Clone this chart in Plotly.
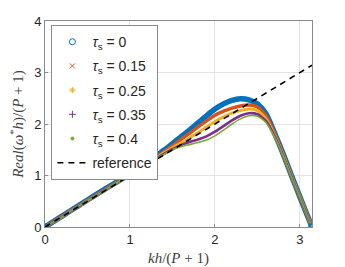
import math
import plotly.graph_objects as go

# ---- data ----
kh = [0, 0.2, 0.4, 0.6, 0.8, 1.0, 1.1, 1.2, 1.3, 1.4, 1.5, 1.6, 1.7, 1.8, 1.9, 2.0,
      2.1, 2.2, 2.3, 2.4, 2.5, 2.6, 2.7, 2.8, 2.9, 3.0, 3.1, math.pi]
tau_0 = [0, 0.21, 0.42, 0.63, 0.83, 1.03, 1.14, 1.25, 1.37, 1.49, 1.62, 1.75, 1.88, 2.02, 2.16, 2.29,
         2.39, 2.46, 2.49, 2.47, 2.39, 2.20, 1.83, 1.43, 1.00, 0.58, 0.17, 0]
tau_015 = [0, 0.21, 0.41, 0.62, 0.82, 1.02, 1.13, 1.24, 1.35, 1.46, 1.58, 1.70, 1.82, 1.94, 2.06, 2.17,
           2.25, 2.31, 2.35, 2.37, 2.33, 2.16, 1.82, 1.42, 0.99, 0.58, 0.17, 0]
tau_025 = [0, 0.20, 0.41, 0.61, 0.82, 1.02, 1.12, 1.23, 1.33, 1.44, 1.54, 1.63, 1.73, 1.83, 1.94, 2.05,
           2.14, 2.21, 2.26, 2.29, 2.26, 2.10, 1.79, 1.41, 0.99, 0.58, 0.17, 0]
tau_035 = [0, 0.20, 0.41, 0.61, 0.82, 1.02, 1.12, 1.22, 1.32, 1.42, 1.51, 1.59, 1.65, 1.70, 1.76, 1.85,
           1.96, 2.07, 2.16, 2.21, 2.19, 2.06, 1.77, 1.40, 0.98, 0.57, 0.17, 0]
tau_04 = [0, 0.20, 0.41, 0.61, 0.82, 1.02, 1.12, 1.22, 1.32, 1.41, 1.50, 1.56, 1.60, 1.64, 1.69, 1.77,
          1.88, 2.00, 2.10, 2.16, 2.15, 2.03, 1.75, 1.39, 0.97, 0.57, 0.17, 0]
ref_x = [0, math.pi]
ref_y = [0, math.pi]

labels = ["0", "0.15", "0.25", "0.35", "0.4"]
series = [tau_0, tau_015, tau_025, tau_035, tau_04]
colors = ["#0072BD", "#D95319", "#EDB120", "#7E2F8E", "#77AC30"]
widths = [5.5, 3.4, 3.0, 2.6, 1.6]
symbols = ["circle-open", "x-thin-open", "asterisk-open", "cross-thin-open", "circle"]
msizes = [6, 5, 5, 5, 3]

fig = go.Figure()
for lab, ys, c, w in zip(labels, series, colors, widths):
    fig.add_trace(go.Scatter(x=kh, y=ys, mode="lines", line=dict(color=c, width=w, shape="spline", smoothing=0.6),
                             showlegend=False, hoverinfo="skip"))
# endpoint circles of the tau=0 series
fig.add_trace(go.Scatter(x=[kh[0], kh[-1]], y=[tau_0[0], tau_0[-1]], mode="markers",
                         marker=dict(symbol="circle-open", color=colors[0], size=6, line=dict(width=1.5)),
                         showlegend=False))
fig.add_trace(go.Scatter(x=ref_x, y=ref_y, mode="lines", line=dict(color="black", width=1.6, dash="6px,5px"),
                         showlegend=False))
# legend entries
for i, (lab, c, s, ms) in enumerate(zip(labels, colors, symbols, msizes)):
    fig.add_trace(go.Scatter(x=[None], y=[None], mode="markers", name=f"<i>τ</i><sub>s</sub> = {lab}",
                             legendgroup=f"g{i}",
                             marker=dict(symbol=s, color=c, size=ms, line=dict(color=c, width=1))))
fig.add_trace(go.Scatter(x=[None], y=[None], mode="lines", name="reference", legendgroup="gref",
                         line=dict(color="black", width=1.6, dash="6px,5px")))

axis_common = dict(showgrid=True, gridcolor="#e3e3e3", gridwidth=1, zeroline=False, showline=True,
                   linecolor="#8a8a8a", linewidth=1, mirror=True, ticks="inside", ticklen=3,
                   tickcolor="#8a8a8a", automargin=False,
                   tickfont=dict(family="Liberation Sans, Arial", size=13, color="#262626"))
fig.update_xaxes(range=[0, math.pi], tickvals=[0, 1, 2, 3], ticktext=["0", "1", "2", "3"],
                 title=dict(text="<i>kh</i>/(<i>P</i> + 1)", font=dict(family="Liberation Serif, Times New Roman", size=15, color="#404040")),
                 **axis_common)
fig.update_yaxes(range=[0, 4], tickvals=[0, 1, 2, 3, 4], ticktext=["0", "1", "2", "3", "4"],
                 title=dict(text="<i>Real</i>(<i>ω</i><sup>*</sup><i>h</i>)/(<i>P</i> + 1)", font=dict(family="Liberation Serif, Times New Roman", size=15, color="#404040")),
                 **axis_common)
# the page body adds an 8px offset, so the figure is 8px smaller and margins compensate
fig.update_layout(
    width=337, height=259,
    margin=dict(l=36.5, r=32.5, t=12.7, b=40.3),
    paper_bgcolor="white", plot_bgcolor="white",
    legend=dict(x=0.024, y=0.98, xanchor="left", yanchor="top", bgcolor="white",
                bordercolor="#8a8a8a", borderwidth=1, itemwidth=30, tracegroupgap=3,
                font=dict(family="Liberation Sans, Arial", size=14, color="#262626")),
)
fig.write_html("out.html")
